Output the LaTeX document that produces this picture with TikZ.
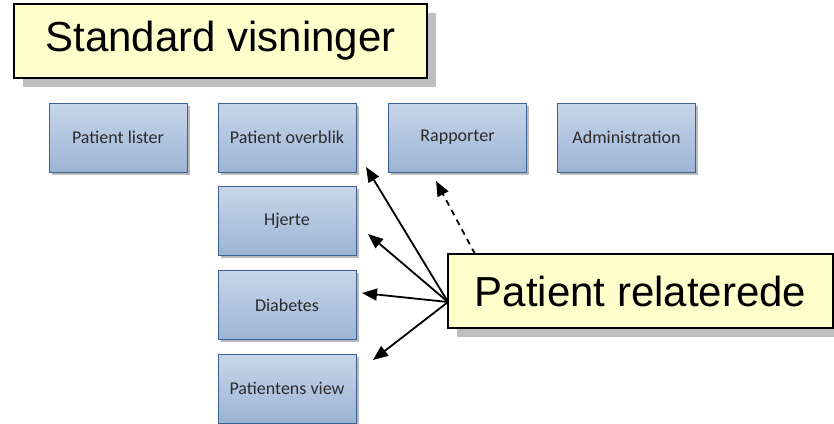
\documentclass[tikz,border=0pt]{standalone}
\usepackage{fontspec}
\setmainfont{Liberation Sans}
\newfontfamily\boxfont{Carlito}
\usetikzlibrary{arrows.meta,shadows}

\definecolor{noteyellow}{HTML}{FFFFCC}
\definecolor{notegray}{HTML}{BFBFBF}
\definecolor{viewtop}{HTML}{C7D6EA}
\definecolor{viewbot}{HTML}{9DB4D5}
\definecolor{viewline}{HTML}{3B6096}
\definecolor{viewtext}{HTML}{2B2B2B}

\tikzset{
  note/.style={rectangle, draw=black, line width=1.5pt, fill=noteyellow,
    minimum height=74pt, inner sep=0pt,
    font=\fontsize{42}{48}\selectfont,
    drop shadow={shadow xshift=9pt, shadow yshift=-9pt, opacity=1, fill=notegray}},
  viewbox/.style={rectangle, draw=viewline, line width=1pt,
    top color=viewtop, bottom color=viewbot,
    minimum width=138pt, minimum height=69pt, inner sep=0pt,
    text=viewtext, font=\boxfont\fontsize{18}{22}\selectfont,
    drop shadow={shadow xshift=2.5pt, shadow yshift=-2.5pt, opacity=.45, fill=black!60}},
  link/.style={line width=1.8pt, -{Triangle[length=15pt,width=12pt]}}
}

\begin{document}
\begin{tikzpicture}
  [x=1pt,y=-1pt]
  \useasboundingbox (0,0) rectangle (834,423);

  \node[note, minimum width=413pt] (standard) at (220.5,41) {Standard visninger};

  \node[viewbox] (lister)   at (118,137.5)   {Patient lister};
  \node[viewbox] (overblik) at (287,137.5)   {Patient overblik};
  \node[viewbox] (rapporter) at (457.5,137.5) {Rapporter};
  \node[viewbox] (admin)    at (626.5,137.5) {Administration};
  \node[viewbox] (hjerte)   at (287,221)     {Hjerte};
  \node[viewbox] (diabetes) at (287,305)     {Diabetes};
  \node[viewbox] (view)     at (287,388.5)   {Patientens view};

  \node[note, minimum width=385pt] (relaterede) at (640.5,291) {Patient relaterede};

  \coordinate (src) at (448,302);
  \coordinate (to_overblik) at (366,167);
  \coordinate (to_hjerte) at (368,234);
  \coordinate (to_diabetes) at (362,293);
  \coordinate (to_view) at (373,360);
  \coordinate (rel_top) at (475,254);
  \coordinate (to_rapporter) at (436,181);

  \draw[link] (src) -- (to_overblik);
  \draw[link] (src) -- (to_hjerte);
  \draw[link] (src) -- (to_diabetes);
  \draw[link] (src) -- (to_view);
  \draw[link, dash pattern=on 6pt off 5pt] (rel_top) -- (to_rapporter);
\end{tikzpicture}
\end{document}
